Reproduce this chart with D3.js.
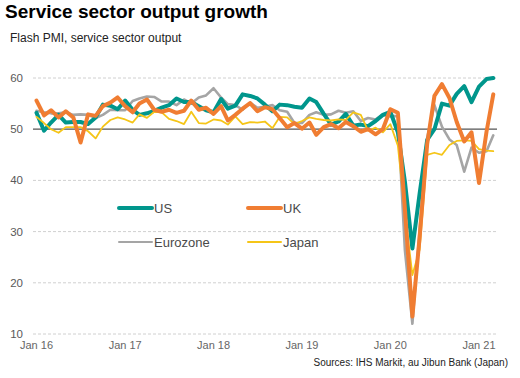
<!DOCTYPE html>
<html><head><meta charset="utf-8">
<script src="https://cdn.jsdelivr.net/npm/d3@7"></script>
<style>body{margin:0;background:#fff;} svg{display:block;font-family:"Liberation Sans",Arial,sans-serif;}</style>
</head><body><svg id="c" width="520" height="378"></svg>
<script>
const startMonth = "2016-01";
const us = [53.2,49.7,51.3,52.8,51.3,51.4,51.4,51.0,52.3,54.8,54.6,53.9,
  55.6,53.8,52.8,53.1,53.6,54.2,54.7,56.0,55.3,55.3,54.5,53.7,
  53.3,55.9,54.0,54.6,56.8,56.5,56.0,54.8,53.5,54.8,54.7,54.4,
  54.2,56.0,55.3,53.0,50.9,51.5,53.0,50.7,50.9,50.6,51.6,52.8,
  53.4,49.4,39.8,26.7,37.5,47.9,50.0,55.0,54.6,56.9,58.4,55.3,
  58.3,59.8,60.0];
const uk = [55.6,52.7,53.7,52.3,53.5,52.3,47.4,52.9,52.6,54.5,55.2,56.2,
  54.5,53.3,55.0,55.8,53.8,53.4,53.8,53.2,53.6,55.6,53.8,54.2,
  53.0,54.5,51.7,52.8,54.0,55.1,53.5,54.3,53.9,52.2,50.4,51.2,
  50.1,51.3,48.9,50.4,51.0,50.2,51.4,50.6,49.5,50.0,49.0,50.0,
  53.9,53.2,34.5,13.4,29.0,47.1,56.5,58.8,56.1,51.4,47.6,49.4,
  39.5,49.5,56.8];
const eurozone = [53.6,53.3,53.1,53.1,53.3,52.8,52.9,52.8,52.2,52.8,53.8,53.7,
  53.7,55.5,56.0,56.4,56.3,55.4,55.4,54.7,55.8,55.0,56.2,56.6,
  58.0,56.2,54.9,54.7,53.8,55.2,54.2,54.4,54.7,53.7,53.4,51.2,
  51.2,52.8,53.3,52.8,52.9,53.6,53.2,53.5,51.6,52.2,51.9,52.8,
  52.5,52.6,26.4,12.0,30.5,48.3,54.7,50.5,48.0,46.9,41.7,46.4,
  45.4,45.7,48.8];
const japan = [52.4,51.2,50.0,49.3,50.4,50.4,50.4,49.6,48.2,50.5,51.8,52.3,
  51.9,51.3,52.9,52.2,53.4,53.3,52.0,51.6,51.0,53.4,51.2,51.1,
  51.9,51.7,50.9,52.5,51.0,51.4,51.3,51.5,50.2,52.4,52.3,51.0,
  51.6,52.3,52.0,51.8,51.7,51.9,51.8,53.3,52.8,49.7,50.3,49.4,
  51.0,46.8,33.8,21.5,26.5,45.0,45.4,45.0,46.9,47.7,47.8,47.7,
  46.1,45.8,45.7];
const yTicks = [10,20,30,40,50,60];
const xTickLabels = ["Jan 16","Jan 17","Jan 18","Jan 19","Jan 20","Jan 21"];
const seriesNames = ["US","UK","Eurozone","Japan"];

const colors = {US:"#00968c", UK:"#f07d32", Eurozone:"#a5a5a5", Japan:"#f5c518"};
const widths = {US:4, UK:4, Eurozone:2.6, Japan:1.8};
const dataMap = {US:us, UK:uk, Eurozone:eurozone, Japan:japan};

const svg = d3.select("#c");
const parse = d3.timeParse("%Y-%m");
const t0 = parse(startMonth);
const dates = us.map((d,i)=>d3.timeMonth.offset(t0,i));

const x = d3.scaleTime().domain([parse("2016-01"), parse("2021-01")]).range([36.5, 479]);
const y = d3.scaleLinear().domain([10,60]).range([334,78]);

// title
svg.append("text").attr("x",5).attr("y",18).attr("font-size",19).attr("font-weight","bold").attr("fill","#000").text("Service sector output growth");
svg.append("text").attr("x",10).attr("y",41.5).attr("font-size",12).attr("fill","#222").text("Flash PMI, service sector output");

// gridlines
const gx0 = 33, gx1 = 497;
svg.append("g").selectAll("line").data(yTicks).join("line")
  .attr("x1",gx0).attr("x2",gx1)
  .attr("y1",d=>y(d)).attr("y2",d=>y(d))
  .attr("stroke",d=>d===50?"#555":"#d0d0d0")
  .attr("stroke-width",d=>d===50?1.2:1)
  .attr("stroke-dasharray",d=>d===50?null:"3,2");

// y labels
svg.append("g").selectAll("text").data(yTicks).join("text")
  .attr("x",23).attr("y",d=>y(d)).attr("dy","0.35em").attr("text-anchor","end")
  .attr("font-size",11.5).attr("fill","#595959").text(d=>d);

// x labels
const xTickDates = xTickLabels.map((s,i)=>d3.timeYear.offset(parse("2016-01"),i));
svg.append("g").selectAll("text").data(xTickDates).join("text")
  .attr("x",d=>x(d)).attr("y",349).attr("text-anchor","middle")
  .attr("font-size",11).attr("fill","#666").text((d,i)=>xTickLabels[i]);

// lines
const line = d3.line().x((d,i)=>x(dates[i])).y(d=>y(d)).curve(d3.curveLinear);
["Eurozone","US","Japan","UK"].forEach(name=>{
  svg.append("path").datum(dataMap[name]).attr("d",line)
    .attr("fill","none").attr("stroke",colors[name]).attr("stroke-width",widths[name])
    .attr("stroke-linejoin","round").attr("stroke-linecap","round");
});

// legend
const legendPos = {US:[119,208], UK:[248,208], Eurozone:[119,242], Japan:[248,242]};
seriesNames.forEach(name=>{
  const [lx,ly] = legendPos[name];
  svg.append("line").attr("x1",lx).attr("x2",lx+33).attr("y1",ly).attr("y2",ly)
    .attr("stroke",colors[name]).attr("stroke-width",name==="US"||name==="UK"?4:2)
    .attr("stroke-linecap","round");
  svg.append("text").attr("x",lx+35).attr("y",ly).attr("dy","0.36em")
    .attr("font-size",13).attr("fill","#4a4a4a").text(name);
});

// source
svg.append("text").attr("x",508).attr("y",366).attr("text-anchor","end")
  .attr("font-size",10).attr("fill","#222").text("Sources: IHS Markit, au Jibun Bank (Japan)");
</script></body></html>
